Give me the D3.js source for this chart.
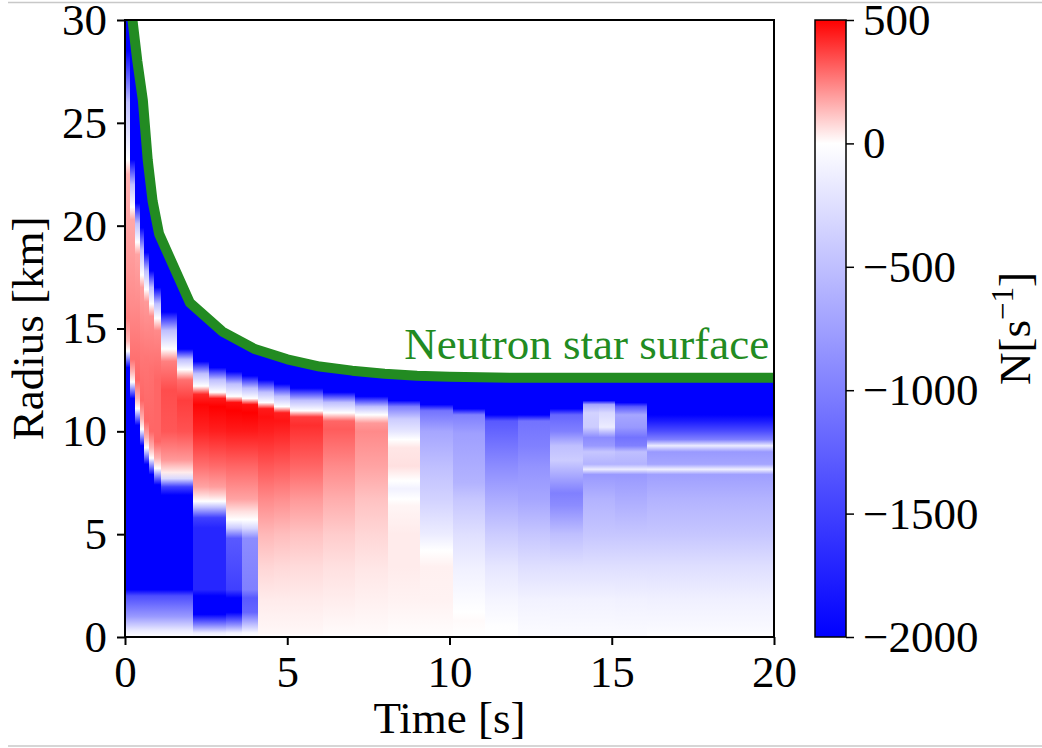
<!DOCTYPE html>
<html>
<head>
<meta charset="utf-8">
<script src="https://cdnjs.cloudflare.com/ajax/libs/d3/7.8.5/d3.min.js"></script>
<style>
    body { margin: 0; background: #fff; }
    svg text { font-family: "Liberation Serif", "Times New Roman", serif; fill: #000; }
</style>
</head>
<body>
<div id="main"></div>
<script>
// Time bins of the heatmap [s]
const timeEdges = [0, 0.15, 0.3, 0.45, 0.6, 0.75, 0.9, 1.1, 1.6, 2.1, 2.6, 3.1, 3.6, 4.1, 4.6, 5.1,
    6.1, 7.1, 8.1, 9.1, 10.1, 11.1, 12.1, 13.1, 14.1, 14.6, 15.1, 16.1, 20];

// One radial profile per time bin: [radius km, N s^-1]
const coreBottom = [[2.3, -2000], [2.0, -1400], [1.0, -800], [0.3, -150], [0, 0]];
const columns = [
    [[30, -2000], [28.5, -2000], [26, -500], [23.2, 0], [22.5, 150], [18, 200], [15.5, 250], [14.4, 150], [13.9, 0], [13.5, -1000], [13.1, -2000], ...coreBottom],
    [[30, -2000], [23.2, -2000], [22, -500], [20.9, 0], [20.3, 170], [16, 230], [13.5, 280], [12.9, 150], [12.4, 0], [12.0, -1000], [11.6, -2000], ...coreBottom],
    [[30, -2000], [21.1, -2000], [20.1, -500], [19.2, 0], [18.6, 180], [15, 250], [12.5, 300], [11.6, 150], [11.1, 0], [10.7, -1000], [10.3, -2000], ...coreBottom],
    [[30, -2000], [19.9, -2000], [18.8, -500], [17.6, 0], [17, 190], [14, 260], [11.5, 300], [10.6, 150], [10.1, 0], [9.7, -1000], [9.3, -2000], ...coreBottom],
    [[30, -2000], [18.7, -2000], [17.8, -500], [16.9, 0], [16.3, 200], [13.5, 270], [10.5, 300], [9.7, 150], [9.2, 0], [8.8, -1000], [8.4, -2000], ...coreBottom],
    [[30, -2000], [17.8, -2000], [17.0, -500], [16.2, 0], [15.6, 220], [13, 280], [10, 300], [9.2, 150], [8.7, 0], [8.3, -1000], [7.9, -2000], ...coreBottom],
    [[30, -2000], [17.0, -2000], [16.2, -500], [15.5, 0], [14.9, 230], [12.5, 300], [9.5, 300], [8.7, 150], [8.2, 0], [7.8, -1000], [7.4, -2000], ...coreBottom],
    [[30, -2000], [15.8, -2000], [14.9, -500], [14.0, 0], [13.4, 250], [12, 350], [10, 330], [8.6, 200], [8.0, 40], [7.7, -300], [7.3, -1500], [6.9, -2000], ...coreBottom],
    [[30, -2000], [14.0, -2000], [13.5, -500], [13.0, 0], [12.5, 280], [11.5, 380], [10, 340], [8.6, 200], [8.0, 40], [7.7, -300], [7.3, -1500], [6.9, -2000], ...coreBottom],
    [[30, -2000], [13.4, -2000], [12.8, -500], [12.2, 0], [11.8, 420], [11.3, 490], [10, 430], [8.3, 280], [7.3, 180], [6.9, 80], [6.6, 0], [6.3, -500], [5.8, -1500], [5.3, -1700], [2.3, -1700], [2.0, -2000], [1.1, -2000], [0.6, -1000], [0.2, -150], [0, 0]],
    [[30, -2000], [13.1, -2000], [12.5, -500], [11.9, 0], [11.6, 450], [11.2, 500], [10, 440], [8.3, 290], [7.3, 190], [6.9, 90], [6.6, 0], [6.3, -500], [5.8, -1500], [5.3, -1700], [2.3, -1700], [2.0, -2000], [1.1, -2000], [0.6, -1000], [0.2, -150], [0, 0]],
    [[30, -2000], [12.9, -2000], [12.3, -500], [11.7, 0], [11.4, 470], [11.0, 500], [10, 450], [8.3, 300], [6.7, 180], [6.1, 60], [5.7, 0], [5.3, -400], [4.8, -1300], [2.3, -1500], [1.9, -2000], [1.2, -2000], [0.6, -900], [0.2, -100], [0, 0]],
    [[30, -2000], [12.7, -2000], [12.1, -500], [11.6, 0], [11.3, 470], [10.9, 500], [10, 450], [8.3, 300], [6.7, 180], [6.1, 60], [5.7, 0], [5.3, -300], [4.8, -900], [2.3, -1000], [1.9, -1300], [1.2, -1200], [0.6, -500], [0.2, -60], [0, 0]],
    [[30, -2000], [12.5, -2000], [11.9, -500], [11.4, 0], [11.1, 450], [10.7, 470], [10, 440], [8.3, 330], [6.7, 230], [5, 140], [3.4, 80], [1.8, 40], [0.2, 15], [0, 0]],
    [[30, -2000], [12.3, -2000], [11.7, -500], [11.2, 0], [10.9, 440], [10.5, 460], [10, 430], [8.3, 320], [6.7, 220], [5, 130], [3.4, 75], [1.8, 40], [0.2, 15], [0, 0]],
    [[30, -2000], [12.1, -2000], [11.5, -500], [11.0, 0], [10.7, 380], [10.3, 410], [8.3, 300], [6.7, 200], [5, 120], [3.4, 70], [1.8, 40], [0.2, 15], [0, 0]],
    [[30, -2000], [11.9, -2000], [11.4, -500], [10.9, 0], [10.5, 300], [10.1, 320], [8.3, 230], [6.7, 160], [5, 100], [3.4, 60], [1.8, 35], [0.2, 10], [0, 0]],
    [[30, -2000], [11.7, -2000], [11.2, -500], [10.8, 0], [10.4, 200], [10, 230], [8.3, 180], [6.7, 120], [5, 80], [3.4, 50], [1.8, 30], [0.2, 10], [0, 0]],
    [[30, -2000], [11.5, -2000], [11.2, -1000], [10.6, -400], [10.0, -200], [9.6, 0], [9.2, 50], [8.3, 60], [7.6, 0], [7.2, -100], [6.7, 0], [6.4, 20], [5, 40], [3.4, 40], [1.8, 25], [0.2, 5], [0, 0]],
    [[30, -2000], [11.3, -2000], [11.0, -1100], [10.0, -700], [8.3, -500], [6.7, -350], [5.0, -150], [4.2, 0], [3.4, 30], [1.8, 25], [0.2, 5], [0, 0]],
    [[30, -2000], [11.1, -2000], [10.8, -1000], [9.9, -750], [7.5, -600], [6.7, -450], [5.0, -250], [3.4, -120], [1.8, -30], [1.2, 0], [0.8, 10], [0, 0]],
    [[30, -2000], [10.8, -2000], [10.5, -1300], [9.4, -1100], [8.3, -900], [6.7, -650], [5.0, -400], [3.4, -200], [1.8, -80], [0.5, -10], [0, 0]],
    [[30, -2000], [10.8, -2000], [10.5, -1100], [9.3, -1000], [8.3, -850], [6.7, -700], [5.0, -450], [3.4, -250], [1.8, -100], [0, -20]],
    [[30, -2000], [11.1, -2000], [10.8, -1200], [10.0, -1000], [9.3, -500], [8.6, -400], [7.8, -700], [7.0, -1000], [6.4, -900], [5.0, -500], [3.4, -250], [1.8, -100], [0, -30]],
    [[30, -2000], [11.5, -2000], [11.3, -700], [10.9, -350], [10.2, -400], [9.7, -900], [9.3, -800], [9.0, -450], [8.4, -600], [8.15, -150], [7.9, -800], [6.7, -600], [5.0, -450], [3.4, -250], [1.8, -100], [0, -30]],
    [[30, -2000], [11.5, -2000], [11.3, -700], [10.9, -300], [10.2, -150], [9.7, -900], [9.3, -800], [9.0, -450], [8.4, -600], [8.15, -150], [7.9, -800], [6.7, -600], [5.0, -450], [3.4, -250], [1.8, -100], [0, -30]],
    [[30, -2000], [11.4, -2000], [11.2, -1300], [10.8, -700], [10.2, -800], [9.7, -1100], [9.3, -1000], [9.0, -500], [8.4, -600], [8.15, -150], [7.9, -800], [6.7, -650], [5.0, -450], [3.4, -250], [1.8, -110], [0, -30]],
    [[30, -2000], [10.8, -2000], [10.5, -1800], [10.0, -1400], [9.6, -1000], [9.3, -150], [9.0, -800], [8.4, -700], [8.15, -120], [7.9, -750], [6.7, -600], [5.0, -450], [3.4, -250], [1.8, -120], [0.3, -40], [0, 0]]
];

// Neutron star surface
const surfaceTime = [0.18, 0.23, 0.38, 0.55, 0.7, 0.85, 1.05, 2, 3, 4, 5, 6, 7, 8, 9, 10, 12, 14, 16, 18, 20];
const surfaceRadius = [30.7, 30, 28, 26.1, 23.2, 21.2, 19.6, 16.25, 14.85, 14.0, 13.5, 13.15, 12.95, 12.8, 12.7, 12.65, 12.6, 12.6, 12.6, 12.6, 12.6];

// Ticks
const xTicks = [0, 5, 10, 15, 20];
const yTicks = [0, 5, 10, 15, 20, 25, 30];
const cbTicks = [500, 0, -500, -1000, -1500, -2000];

const W = 1042;
const H = 748;
const fs = 45;

const svg = d3.select('#main')
    .append('svg')
    .attr('width', W)
    .attr('height', H);

// page rules
svg.selectAll('line.rule')
    .data([2.5, 746])
    .join('line')
    .attr('x1', 8).attr('x2', W)
    .attr('y1', (d) => d).attr('y2', (d) => d)
    .attr('stroke', '#c8c8c8')
    .attr('stroke-width', 1.5);

// Scales
const x = d3.scaleLinear().domain([0, 20]).range([125, 774]);
const y = d3.scaleLinear().domain([0, 30]).range([637, 20]);
const color = d3.scaleLinear()
    .domain([-2000, 0, 500])
    .range(['#0000ff', '#ffffff', '#ff0000'])
    .clamp(true);

const defs = svg.append('defs');

// gradients, one per time bin
const off = (r) => (y(r) - y(30)) / (y(0) - y(30));
defs.selectAll('linearGradient.col')
    .data(columns)
    .join('linearGradient')
    .attr('class', 'col')
    .attr('id', (d, i) => 'col' + i)
    .attr('x1', 0).attr('x2', 0).attr('y1', 0).attr('y2', 1)
    .selectAll('stop')
    .data((d) => d)
    .join('stop')
    .attr('offset', (d) => off(d[0]))
    .attr('stop-color', (d) => color(d[1]));

// clip below the surface
const surface = surfaceTime.map((t, i) => [t, surfaceRadius[i]]);
const below = defs.append('clipPath').attr('id', 'below');
below.append('rect')
    .attr('x', x(0)).attr('y', y(30))
    .attr('width', x(surfaceTime[0]) - x(0))
    .attr('height', y(0) - y(30));
below.append('path')
    .attr('d', d3.area().x((d) => x(d[0])).y0(y(0)).y1((d) => y(d[1]))(surface));

defs.append('clipPath').attr('id', 'plot')
    .append('rect')
    .attr('x', x(0)).attr('y', y(30))
    .attr('width', x(20) - x(0))
    .attr('height', y(0) - y(30));

// heatmap
svg.append('g')
    .attr('clip-path', 'url(#below)')
    .selectAll('rect')
    .data(columns)
    .join('rect')
    .attr('x', (d, i) => x(timeEdges[i]))
    .attr('y', y(30))
    .attr('width', (d, i) => x(timeEdges[i + 1]) - x(timeEdges[i]))
    .attr('height', y(0) - y(30))
    .attr('shape-rendering', 'crispEdges')
    .attr('fill', (d, i) => `url(#col${i})`);

// surface line
svg.append('path')
    .datum(surface)
    .attr('clip-path', 'url(#plot)')
    .attr('d', d3.line().x((d) => x(d[0])).y((d) => y(d[1])))
    .attr('fill', 'none')
    .attr('stroke', '#228b22')
    .attr('stroke-width', 10)
    .attr('stroke-linejoin', 'round');

svg.append('text')
    .attr('x', x(19.85))
    .attr('y', y(13.5))
    .attr('text-anchor', 'end')
    .style('font-size', fs + 'px')
    .style('fill', '#228b22')
    .text('Neutron star surface');

// frame
svg.append('rect')
    .attr('x', x(0)).attr('y', y(30))
    .attr('width', x(20) - x(0))
    .attr('height', y(0) - y(30))
    .attr('fill', 'none')
    .attr('stroke', '#000')
    .attr('stroke-width', 2);

// Axis
const xAxis = d3.axisBottom(x).tickValues(xTicks).tickSize(8).tickPadding(10).tickFormat(d3.format('d'));
const yAxis = d3.axisLeft(y).tickValues(yTicks).tickSize(8).tickPadding(10).tickFormat(d3.format('d'));

const gx = svg.append('g')
    .attr('transform', `translate(0, ${y(0)})`)
    .call(xAxis);
const gy = svg.append('g')
    .attr('transform', `translate(${x(0)}, 0)`)
    .call(yAxis);

[gx, gy].forEach((g) => {
    g.select('.domain').remove();
    g.selectAll('.tick line').attr('stroke', '#000').attr('stroke-width', 2);
    g.selectAll('.tick text').style('font-size', fs + 'px').attr('fill', '#000');
});

svg.append('text')
    .attr('x', (x(0) + x(20)) / 2)
    .attr('y', 733)
    .attr('text-anchor', 'middle')
    .style('font-size', fs + 'px')
    .text('Time [s]');

svg.append('text')
    .attr('transform', `translate(43, ${(y(0) + y(30)) / 2}) rotate(-90)`)
    .attr('text-anchor', 'middle')
    .style('font-size', fs + 'px')
    .text('Radius [km]');

// Colorbar
const cb = d3.scaleLinear().domain([-2000, 500]).range([637, 20]);
const cbX = 815;
const cbW = 31;

const cbGrad = defs.append('linearGradient')
    .attr('id', 'cbgrad')
    .attr('x1', 0).attr('x2', 0).attr('y1', 1).attr('y2', 0);
cbGrad.selectAll('stop')
    .data(color.domain())
    .join('stop')
    .attr('offset', (d) => (cb(-2000) - cb(d)) / (cb(-2000) - cb(500)))
    .attr('stop-color', (d) => color(d));

svg.append('rect')
    .attr('x', cbX).attr('y', cb(500))
    .attr('width', cbW)
    .attr('height', cb(-2000) - cb(500))
    .attr('fill', 'url(#cbgrad)')
    .attr('stroke', '#000')
    .attr('stroke-width', 1.5);

const cbAxis = d3.axisRight(cb).tickValues(cbTicks).tickSize(8).tickPadding(9).tickFormat(d3.format('d'));
const gc = svg.append('g')
    .attr('transform', `translate(${cbX + cbW}, 0)`)
    .call(cbAxis);
gc.select('.domain').remove();
gc.selectAll('.tick line').attr('stroke', '#000').attr('stroke-width', 1.5);
gc.selectAll('.tick text').style('font-size', fs + 'px').attr('fill', '#000');

const cbLabel = svg.append('text')
    .attr('transform', `translate(1030, ${(cb(-2000) + cb(500)) / 2}) rotate(-90)`)
    .attr('text-anchor', 'middle')
    .style('font-size', fs + 'px');
cbLabel.append('tspan').text('N[s');
cbLabel.append('tspan').style('font-size', '31px').attr('dy', -17).text('\u22121');
cbLabel.append('tspan').attr('dy', 17).text(']');
</script>
</body>
</html>
